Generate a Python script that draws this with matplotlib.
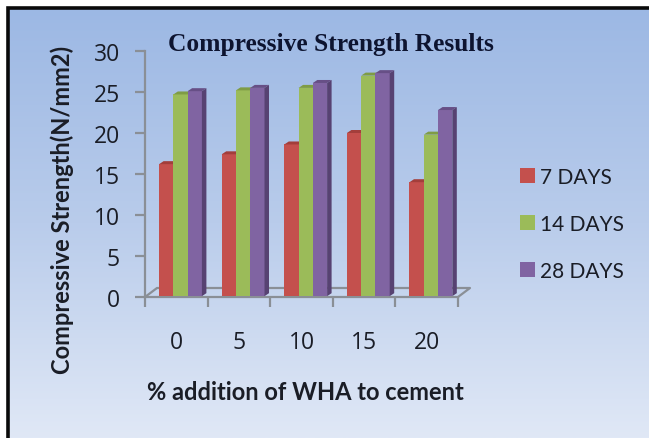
import matplotlib
matplotlib.use('Agg')
import matplotlib.pyplot as plt
from matplotlib.patches import Polygon
import numpy as np

W, H = 649, 439

additions = ['0', '5', '10', '15', '20']
days_7 = [16.2, 17.4, 18.6, 20.0, 14.0]
days_14 = [24.7, 25.2, 25.5, 27.0, 19.8]
days_28 = [25.1, 25.5, 26.1, 27.3, 22.8]
series_names = ['7 DAYS', '14 DAYS', '28 DAYS']

COLORS = ['#c4504d', '#9bbb59', '#8064a2']
TOPS = ['#a33e3b', '#7f9c45', '#674f86']
SIDES = ['#8e3533', '#6f8a3a', '#574272']
GREY = '#8a8f96'
TEXT = '#1a1d26'

fig = plt.figure(figsize=(W/100, H/100), dpi=100, facecolor='white')

# background gradient, black frame only on the left and top
bg = fig.add_axes([0, 0, 1, 1])
grad = np.linspace(0, 1, 256).reshape(-1, 1)
cmap = matplotlib.colors.LinearSegmentedColormap.from_list('bg', ['#9cb8e4', '#b9cceb', '#e0e8f6'])
bg.imshow(grad, aspect='auto', cmap=cmap, extent=[8, W, H, 9])
bg.plot([7.5, 7.5, W], [H, 8.5, 8.5], color='#0a0a0a', lw=2.6, solid_joinstyle='miter')
bg.set_xlim(0, W)
bg.set_ylim(H, 0)
bg.axis('off')

# main axes, pixel box of the front plane
left, right, top, bottom = 145, 458, 52, 298
ax = fig.add_axes([left/W, 1-bottom/H, (right-left)/W, (bottom-top)/H])
ax.patch.set_alpha(0)
ax.set_xlim(0, 5)
ax.set_ylim(0, 30)

bar_w = 0.228
dx = 4.5 * 5 / (right-left)      # depth of the bars
dy = 3 * 30 / (bottom-top)
base = 0.1

handles = []
for s, vals in enumerate([days_7, days_14, days_28]):
	for i, v in enumerate(vals):
		x0 = i + 0.225 + s * bar_w
		x1 = x0 + bar_w
		b = ax.bar(x0, v-base, bar_w, bottom=base, align='edge', color=COLORS[s], zorder=3+s)
		# top of the bar
		ax.add_patch(Polygon([(x0, v), (x1, v), (x1+dx, v+dy), (x0+dx, v+dy)], color=TOPS[s], lw=0, zorder=3+s))
		# right side, only shows on the last series
		if s == 2:
			ax.add_patch(Polygon([(x1, base), (x1+dx, base+dy), (x1+dx, v+dy), (x1, v)], color=SIDES[s], lw=0, zorder=3+s))
	handles.append(b)

# floor of the 3d box
fx = 12 * 5 / (right-left)
fy = 9 * 30 / (bottom-top)
ax.plot([0, fx, 5+fx, 5], [0, fy, fy, 0], color=GREY, lw=1.6, clip_on=False, zorder=1)

for side in ['top', 'right']:
	ax.spines[side].set_visible(False)
for side in ['left', 'bottom']:
	ax.spines[side].set_color(GREY)
	ax.spines[side].set_linewidth(1.6)

ax.set_yticks(range(0, 31, 5))
ax.set_xticks(range(6))
ax.set_xticklabels([])
ax.set_xticks(np.arange(5)+0.5, additions, minor=True)
ax.tick_params(axis='both', which='major', color=GREY, width=1.6, length=7)
ax.tick_params(axis='y', labelsize=16.5, labelcolor=TEXT, pad=11)
ax.tick_params(axis='x', which='minor', length=0, labelsize=16.5, labelcolor=TEXT, pad=24)
for t in ax.get_xticklabels(minor=True) + ax.get_yticklabels():
	t.set_family('Open Sans')

fig.text(62/W, 1-210/H, 'Compressive Strength(N/mm2)', rotation=90, ha='center', va='center',
	family='Lato', fontweight='bold', fontsize=17, color=TEXT)
fig.text(305/W, 1-393/H, '% addition of WHA to cement', ha='center', va='center',
	family='Lato', fontweight='bold', fontsize=17, color=TEXT)
fig.text(331/W, 1-44/H, 'Compressive Strength Results', ha='center', va='center',
	family='Liberation Serif', fontweight='bold', fontsize=18.4, color='#0d1430')

leg = ax.legend([h[0] for h in handles], series_names, loc='center left',
	bbox_to_anchor=(501/W, 1-225/H), bbox_transform=fig.transFigure, frameon=False,
	handlelength=0.72, handleheight=0.72, handletextpad=0.25, labelspacing=1.3,
	prop={'family': 'Lato', 'size': 15}, labelcolor=TEXT)

fig.savefig('out.png', dpi=100)
